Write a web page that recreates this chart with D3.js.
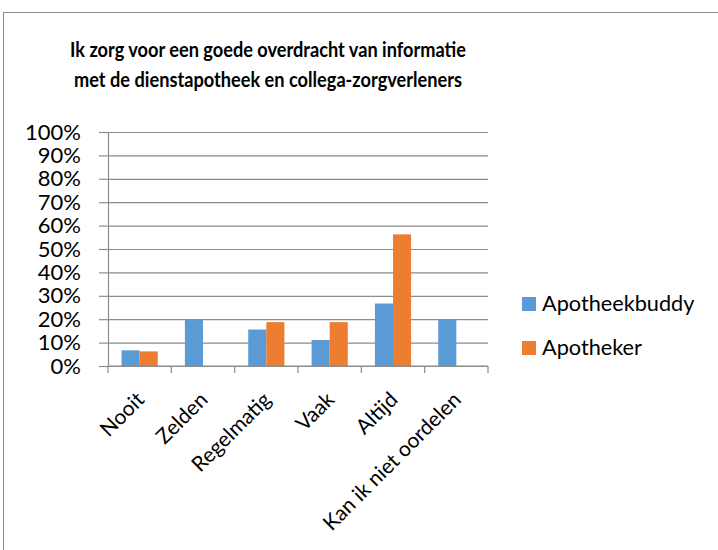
<!DOCTYPE html>
<html>
<head>
<meta charset="utf-8">
<script src="https://cdn.jsdelivr.net/npm/d3@7"></script>
<style>
    body { margin: 0; background: #fff; }
    svg { display: block; font-family: Lato, sans-serif; }
</style>
</head>
<body>
<svg id="drawing_region"></svg>
<script>
// categories and series (shares of respondents)
const categories = ["Nooit", "Zelden", "Regelmatig", "Vaak", "Altijd", "Kan ik niet oordelen"];
const seriesNames = ["Apotheekbuddy", "Apotheker"];
const apotheekbuddy = [0.067, 0.20, 0.156, 0.111, 0.267, 0.20];
const apotheker = [0.0625, 0, 0.1875, 0.1875, 0.5625, 0];
const yTicks = [0, 0.1, 0.2, 0.3, 0.4, 0.5, 0.6, 0.7, 0.8, 0.9, 1.0];
const titleLines = ["Ik zorg voor een goede overdracht van informatie",
                    "met de dienstapotheek en collega-zorgverleners"];
const colors = ["#5B9BD5", "#ED7D31"];

const config = {
    width: 718,
    height: 550,
    margin: { top: 132, right: 230, bottom: 184, left: 108 }
};

const svg = d3.select('#drawing_region')
    .attr('width', config.width)
    .attr('height', config.height);

// chart frame
svg.append('rect')
    .attr('x', 3.5).attr('y', 12.5)
    .attr('width', 740).attr('height', 600)
    .attr('fill', 'none')
    .attr('stroke', '#8c8c8c');

// title (Calibri-like narrow bold: squeeze Lato to the reference widths)
const titleWidths = [396, 388];
svg.append('text')
    .attr('text-anchor', 'middle')
    .attr('font-weight', 'bold')
    .attr('font-size', '21px')
    .attr('fill', '#000')
    .selectAll('tspan')
    .data(titleLines)
    .join('tspan')
    .attr('x', 268)
    .attr('y', (d, i) => 57 + i * 30)
    .attr('textLength', (d, i) => titleWidths[i])
    .attr('lengthAdjust', 'spacingAndGlyphs')
    .text(d => d);

const inner_width = 488 - config.margin.left;
const inner_height = 366 - config.margin.top;

const chart = svg.append('g')
    .attr('transform', `translate(${config.margin.left}, ${config.margin.top})`);

const xscale = d3.scaleBand()
    .domain(categories)
    .range([0, inner_width])
    .padding(0);

const xinner = d3.scaleBand()
    .domain(seriesNames)
    .range([0, xscale.bandwidth()])
    .paddingInner(0)
    .paddingOuter(0.75);

const yscale = d3.scaleLinear()
    .domain([0, 1])
    .range([inner_height, 0]);

// gridlines
chart.append('g')
    .call(d3.axisLeft(yscale).tickValues(yTicks).tickSize(-inner_width).tickFormat(''))
    .call(g => g.select('.domain').remove())
    .call(g => g.selectAll('line').attr('stroke', '#8c8c8c').attr('stroke-width', 1.2));

// y axis
chart.append('g')
    .call(d3.axisLeft(yscale)
        .tickValues(yTicks)
        .tickSizeInner(9)
        .tickSizeOuter(0)
        .tickPadding(18)
        .tickFormat(d3.format('.0%')))
    .call(g => g.select('.domain').attr('stroke', '#8c8c8c').attr('stroke-width', 1.2))
    .call(g => g.selectAll('line').attr('stroke', '#8c8c8c').attr('stroke-width', 1.2))
    .call(g => g.selectAll('text')
        .attr('font-family', 'Lato, sans-serif')
        .attr('font-size', '22px')
        .attr('fill', '#000'));

// bars
const rows = categories.map((c, i) => ({ category: c, values: [apotheekbuddy[i], apotheker[i]] }));

chart.append('g')
    .selectAll('g')
    .data(rows)
    .join('g')
    .attr('transform', d => `translate(${xscale(d.category)}, 0)`)
    .selectAll('rect')
    .data(d => d.values.map((v, j) => ({ series: seriesNames[j], value: v, color: colors[j] })))
    .join('rect')
    .attr('x', d => xinner(d.series))
    .attr('width', xinner.bandwidth())
    .attr('y', d => yscale(d.value))
    .attr('height', d => inner_height - yscale(d.value))
    .attr('fill', d => d.color);

// x axis line and tick marks at category boundaries
const xaxis_group = chart.append('g')
    .attr('transform', `translate(0, ${inner_height})`);

xaxis_group.append('line')
    .attr('x1', 0).attr('x2', inner_width)
    .attr('stroke', '#8c8c8c').attr('stroke-width', 1.2);

const boundaries = categories.map(c => xscale(c)).concat([inner_width]);
xaxis_group.selectAll('.tick-mark')
    .data(boundaries)
    .join('line')
    .attr('class', 'tick-mark')
    .attr('x1', d => d).attr('x2', d => d)
    .attr('y1', 0).attr('y2', 7)
    .attr('stroke', '#8c8c8c').attr('stroke-width', 1.2);

xaxis_group.selectAll('.cat-label')
    .data(categories)
    .join('text')
    .attr('class', 'cat-label')
    .attr('text-anchor', 'end')
    .attr('font-size', '21px')
    .attr('fill', '#000')
    .attr('transform', d => `translate(${xscale(d) + xscale.bandwidth() / 2 + 6}, 35) rotate(-45)`)
    .text(d => d);

// legend
const legend = svg.append('g')
    .attr('transform', 'translate(522, 297)');

const legendItems = legend.selectAll('g')
    .data(seriesNames)
    .join('g')
    .attr('transform', (d, i) => `translate(0, ${i * 44})`);

legendItems.append('rect')
    .attr('width', 14).attr('height', 14)
    .attr('fill', (d, i) => colors[i]);

legendItems.append('text')
    .attr('x', 20)
    .attr('y', 14)
    .attr('font-size', '21.7px')
    .attr('fill', '#000')
    .text(d => d);
</script>
</body>
</html>
